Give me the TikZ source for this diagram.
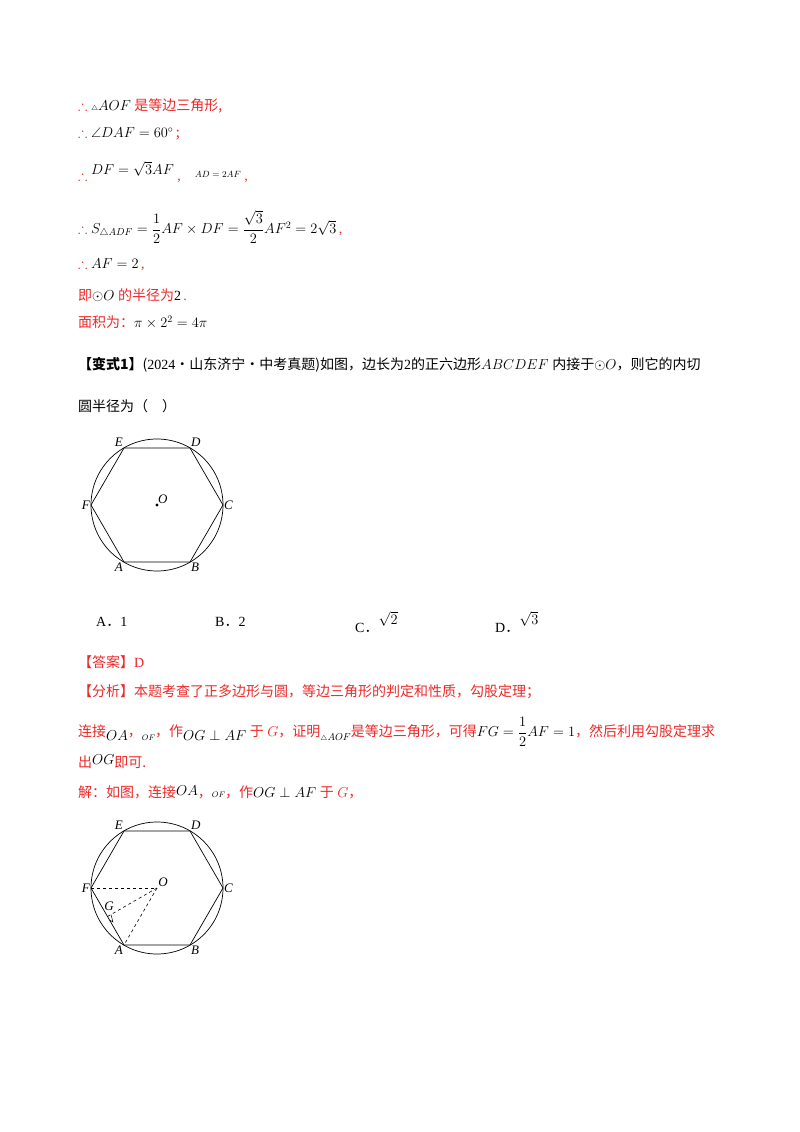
\documentclass[tikz,border=0pt]{standalone}
\usepackage{amsmath,amssymb}
\usepackage{fontspec}
\usetikzlibrary{calc}
\setmainfont{Liberation Serif}
\newfontfamily\cjk{Noto Sans CJK SC}
\definecolor{rd}{RGB}{235,40,40}
\newcommand{\bk}[1]{{\color{black}#1}}
\begin{document}
\begin{tikzpicture}[x=1pt,y=-1pt,
  t/.style={anchor=west,inner sep=0pt,font=\fontsize{14}{16}\selectfont,text=rd},
  k/.style={anchor=west,inner sep=0pt,font=\fontsize{14}{16}\selectfont,text=black},
  lb/.style={inner sep=1pt,font=\fontsize{13}{14}\selectfont\itshape},
  ln/.style={line width=0.7pt},
  dl/.style={dashed,line width=0.6pt}]
\useasboundingbox (0,0) rectangle (800,1132);
\node[t] (l1) at (78,106) {$\therefore$ \bk{{\scriptsize$\triangle$}$AOF$} {\cjk 是等边三角形,}};
\node[t] (l2) at (78,134) {$\therefore$ \bk{$\angle DAF=60^\circ$}\,{\cjk ;}};
\node[t] (l3) at (78,172) {$\therefore$ \raisebox{6pt}{\bk{$DF=\sqrt{3}AF$}}\ ,\quad \raisebox{3pt}{\bk{\small$AD=2AF$}}\ ,};
\node[t] (l4) at (78,227) {$\therefore$ \bk{$S_{\triangle ADF}=\dfrac12 AF\times DF=\dfrac{\sqrt3}{2}AF^2=2\sqrt3$}\,,};
\node[t] (l5) at (78,265) {$\therefore$ \bk{$AF=2$}\,,};
\node[t] (l6) at (78,295) {{\cjk 即}\bk{$\odot O$} {\cjk 的半径为}\bk{2}\,.};
\node[t] (l7) at (78,322) {{\cjk 面积为：}\bk{$\pi\times2^2=4\pi$}};
\node[k] (q1) at (78,365) {{\cjk\bfseries 【变式1】}{\cjk (}2024{\cjk ·山东济宁·中考真题)如图，边长为}2{\cjk 的正六边形}$ABCDEF$ {\cjk 内接于}$\odot O${\cjk ，则它的内切}};
\node[k] (q2) at (78,406) {{\cjk 圆半径为（\quad ）}};
% figure 1
\coordinate (O1) at (157,505);
\draw[ln] (O1) circle (66);
\coordinate (A1) at (124,562); \coordinate (B1) at (190,562);
\coordinate (C1) at (223,505); \coordinate (D1) at (190,448);
\coordinate (E1) at (124,448); \coordinate (F1) at (91,505);
\draw[ln] (A1)--(B1)--(C1)--(D1)--(E1)--(F1)--cycle;
\fill (O1) circle (1.6);
\node[lb,above right] (oo1) at (O1) {O};
\node[lb,below left] (la1) at (A1) {A};
\node[lb,below right] (lb1) at (B1) {B};
\node[lb,right] (lc1) at (C1) {C};
\node[lb,above right] (ld1) at (D1) {D};
\node[lb,above left] (le1) at (E1) {E};
\node[lb,left] (lf1) at (F1) {F};
\node[k] (oa) at (96,622) {A{\cjk ．}1};
\node[k] (ob) at (215,622) {B{\cjk ．}2};
\node[k] (oc) at (355,622) {C{\cjk ．}\raisebox{8pt}{$\sqrt2$}};
\node[k] (od) at (495,622) {D{\cjk ．}\raisebox{8pt}{$\sqrt3$}};
\node[t] (ans) at (78,662) {{\cjk 【答案】}D};
\node[t] (an1) at (78,692) {{\cjk 【分析】本题考查了正多边形与圆，等边三角形的判定和性质，勾股定理；}};
\node[t] (an2) at (78,732) {{\cjk 连接}\raisebox{-4pt}{\bk{$OA$}}{\cjk ，}\raisebox{-4pt}{\bk{\footnotesize$OF$}}{\cjk ，作}\raisebox{-4pt}{\bk{$OG\perp AF$}} {\cjk 于} $G${\cjk ，证明}\raisebox{-4pt}{\bk{\scriptsize$\triangle$\normalsize$AOF$}}{\cjk 是等边三角形，可得}\bk{$FG=\dfrac12AF=1$}{\cjk ，然后利用勾股定理求}};
\node[t] (an3) at (78,762) {{\cjk 出}\raisebox{3pt}{\bk{$OG$}}{\cjk 即可.}};
\node[t] (an4) at (78,792) {{\cjk 解：如图，连接}\raisebox{2pt}{\bk{$OA$}}{\cjk ，}\bk{\footnotesize$OF$}{\cjk ，作}\bk{$OG\perp AF$} {\cjk 于} $G${\cjk ，}};
% figure 2
\coordinate (O2) at (157,888);
\draw[ln] (O2) circle (66);
\coordinate (A2) at (124,945); \coordinate (B2) at (190,945);
\coordinate (C2) at (223,888); \coordinate (D2) at (190,831);
\coordinate (E2) at (124,831); \coordinate (F2) at (91,888);
\coordinate (G2) at (107.5,916.5);
\draw[ln] (A2)--(B2)--(C2)--(D2)--(E2)--(F2)--cycle;
\draw[dl,line width=0.9pt] (F2)--(O2);
\draw[dl] (O2)--(A2);
\draw[dl] (O2)--(G2);
\draw[line width=0.5pt] ($(G2)!4pt!(A2)$) -- ++(30:4) coordinate (rr) -- ($(G2)!4pt!(O2)$);
\node[lb,above] (oo2) at ($(O2)+(6,0)$) {O};
\node[lb,above] (lg2) at (109,912) {G};
\node[lb,below left] (la2) at (A2) {A};
\node[lb,below right] (lb2) at (B2) {B};
\node[lb,right] (lc2) at (C2) {C};
\node[lb,above right] (ld2) at (D2) {D};
\node[lb,above left] (le2) at (E2) {E};
\node[lb,left] (lf2) at (F2) {F};
\end{tikzpicture}
\end{document}
